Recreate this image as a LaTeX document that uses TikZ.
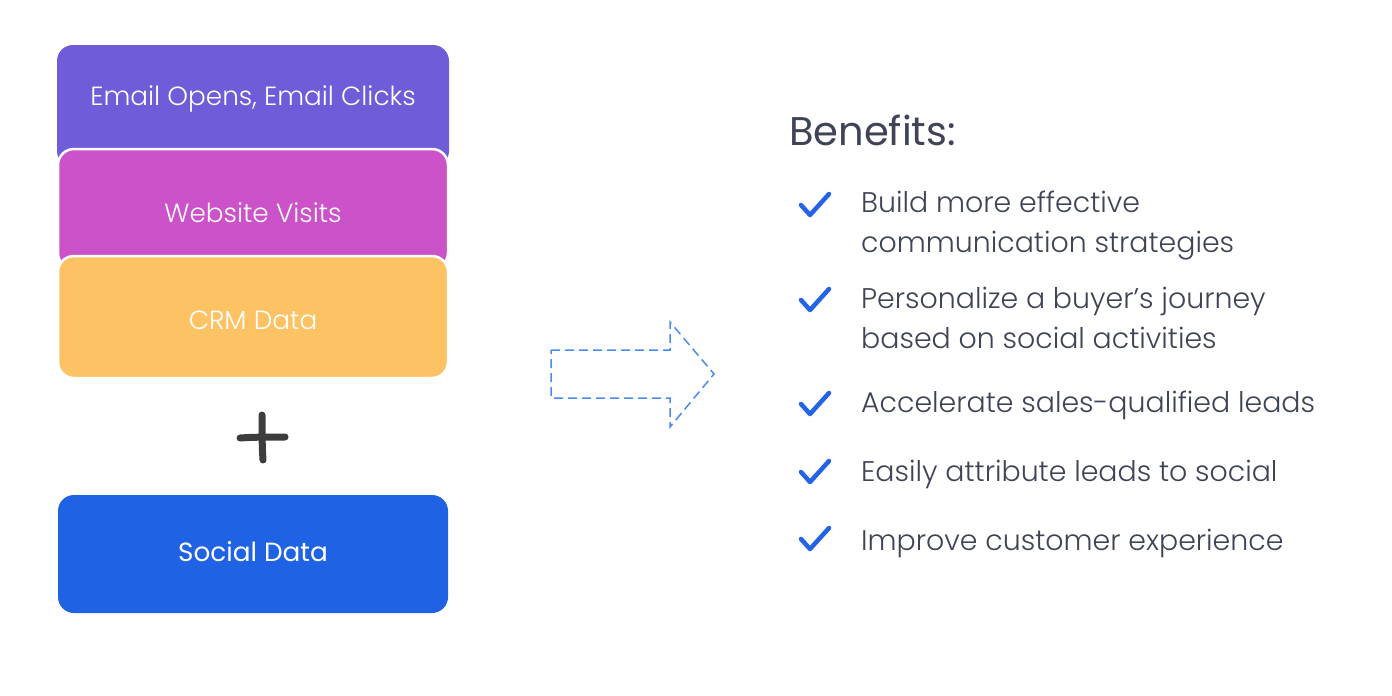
\documentclass[tikz,border=0pt]{standalone}
\usepackage{fontspec}
\setmainfont{Poppins}
\newfontfamily\poplight{Poppins Light}
\definecolor{cEmail}{HTML}{6F5CD9}
\definecolor{cWeb}{HTML}{CC52CA}
\definecolor{cCrm}{HTML}{FDC263}
\definecolor{cSoc}{HTML}{1F63E4}
\definecolor{cArrow}{HTML}{4A8BEF}
\definecolor{cTxt}{HTML}{3F4356}
\definecolor{cTick}{HTML}{2563E6}
\definecolor{cPlus}{HTML}{3D3D3D}
\begin{document}
\begin{tikzpicture}[x=1pt,y=-1pt,
  box/.style={rectangle, rounded corners=16pt, minimum width=392pt, inner sep=0pt},
  stacked/.style={box, draw=white, line width=2.5pt, minimum width=390pt},
  boxtxt/.style={text=white, font=\poplight\fontsize{26.3}{30}\selectfont, inner sep=0pt},
  item/.style={anchor=west, text=cTxt, font=\poplight\fontsize{28.4}{40}\selectfont, align=left, inner sep=0pt},
  tick/.style={draw=cTick, line width=4.5pt, line cap=round, line join=round},
]
\useasboundingbox (0,0) rectangle (1392,696);
% stacked boxes
\node[box, fill=cEmail, minimum height=122pt] (email) at (253,106) {};
\node[stacked, fill=cWeb, minimum height=120pt] (web) at (253,209) {};
\node[stacked, fill=cCrm, minimum height=122pt] (crm) at (253,317) {};
\node[box, fill=cSoc, minimum height=118pt, minimum width=390pt] (soc) at (253,554) {};
\node[boxtxt] (temail) at (253,99) {Email Opens, Email Clicks};
\node[boxtxt] (tweb) at (253,213) {Website Visits};
\node[boxtxt] (tcrm) at (253,320) {CRM Data};
\node[boxtxt, font=\fontsize{26.3}{30}\selectfont] (tsoc) at (253,552) {Social Data};
% plus
\draw[cPlus, line width=7pt, line cap=round] (240,438) .. controls (255,437) and (270,437) .. (285,437);
\draw[cPlus, line width=7pt, line cap=round] (262,415) .. controls (262,430) and (262,445) .. (263,460);
% dashed arrow
\draw[cArrow, line width=1.5pt, dash pattern=on 9pt off 5pt]
  (551,350) -- (670,350) -- (670,322) -- (714,374) -- (670,427) -- (670,398) -- (551,398) -- cycle;
% benefits
\node[anchor=west, text=cTxt, font=\fontsize{40}{44}\selectfont, inner sep=0pt] (title) at (789,130) {Benefits:};
\node[item] (b1) at (861,226) {Build more effective\\communication strategies};
\node[item] (b2) at (861,318) {Personalize a buyer’s journey\\based on social activities};
\node[item] (b3) at (861,405) {Accelerate sales-qualified leads};
\node[item] (b4) at (861,474) {Easily attribute leads to social};
\node[item] (b5) at (861,543) {Improve customer experience};
\foreach \y in {205,300,404,472,539}{
  \draw[tick] (801,\y-0) -- (810,\y+10) -- (829,\y-11);
}
\end{tikzpicture}
\end{document}
